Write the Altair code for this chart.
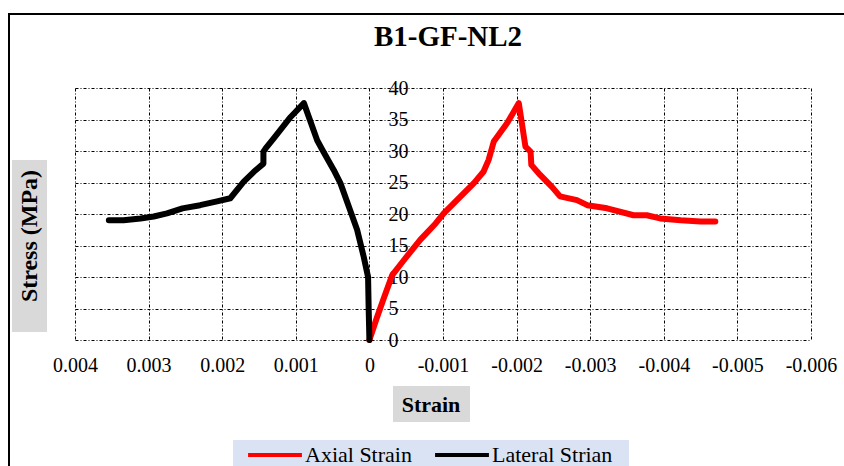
import altair as alt
import pandas as pd

# Axial strain (red) - strain negative, stress MPa
axial_strain = [0, -0.00010, -0.00020, -0.00031, -0.00047, -0.00069, -0.00090, -0.00101,
                -0.00124, -0.00142, -0.00155, -0.00162, -0.00169, -0.00187, -0.00203,
                -0.00212, -0.00219, -0.00220, -0.00232, -0.00248, -0.00259, -0.00282,
                -0.00296, -0.00323, -0.00359, -0.00377, -0.00395, -0.00423, -0.00450, -0.00470]
axial_stress = [0, 3.5, 6.8, 10.3, 12.7, 15.9, 18.5, 20.1,
                22.8, 24.9, 26.7, 28.6, 31.5, 34.4, 37.6,
                30.7, 29.9, 27.8, 26.2, 24.3, 22.8, 22.2,
                21.4, 20.9, 19.8, 19.8, 19.3, 19.0, 18.8, 18.8]

# Lateral strain (black) - strain positive
lateral_strain = [0, 0.000010, 0.000018, 0.000077, 0.000167, 0.00028, 0.000394, 0.000485,
                  0.00064, 0.00071, 0.00089, 0.00107, 0.00130, 0.00141, 0.00144, 0.00144,
                  0.00157, 0.00171, 0.00189, 0.00207, 0.00230, 0.00254, 0.00275, 0.00293,
                  0.00311, 0.00334, 0.00354]
lateral_stress = [0, 5.0, 10.0, 13.2, 17.5, 21.2, 24.9, 27.0,
                  30.2, 31.7, 37.6, 35.4, 32.0, 30.4, 29.9, 28.0,
                  26.7, 25.1, 22.5, 22.0, 21.4, 20.9, 20.1, 19.6,
                  19.3, 19.0, 19.0]

series_names = ["Axial Strain", "Lateral Strian"]
series_colors = ["#ff0000", "#000000"]
x_ticks = [0.004, 0.003, 0.002, 0.001, 0, -0.001, -0.002, -0.003, -0.004, -0.005, -0.006]
y_ticks = [0, 5, 10, 15, 20, 25, 30, 35, 40]

rows = []
for i, (s, v) in enumerate(zip(axial_strain, axial_stress)):
    rows.append({"strain": s, "stress": v, "series": series_names[0], "ord": i})
for i, (s, v) in enumerate(zip(lateral_strain, lateral_stress)):
    rows.append({"strain": s, "stress": v, "series": series_names[1], "ord": i})
df = pd.DataFrame(rows)

FONT = "Liberation Serif"
W, H = 736, 252
one = pd.DataFrame({"a": [0]})

lines = alt.Chart(df).mark_line(strokeWidth=6, strokeJoin="round", strokeCap="round").encode(
    x=alt.X("strain:Q",
            scale=alt.Scale(domain=[-0.006, 0.004], reverse=True, nice=False),
            axis=alt.Axis(values=x_ticks, labelExpr="'' + datum.value", title=None,
                          grid=True, gridColor="#000000", gridDash=[3, 2, 1, 2], gridWidth=1,
                          domain=False, ticks=False, labelFont=FONT, labelFontSize=20,
                          labelColor="#000000", labelPadding=15, labelOverlap=False,
                          labelFlush=False)),
    y=alt.Y("stress:Q",
            scale=alt.Scale(domain=[0, 40], nice=False),
            axis=alt.Axis(values=y_ticks, title=None, orient="right", offset=-442,
                          grid=True, gridColor="#000000", gridDash=[3, 2, 1, 2], gridWidth=1,
                          domain=False, ticks=False, labelFont=FONT, labelFontSize=20,
                          labelColor="#000000", labelPadding=19, labelAlign="left",
                          labelOverlap=False, labelFlush=False)),
    color=alt.Color("series:N",
                    scale=alt.Scale(domain=series_names, range=series_colors),
                    legend=alt.Legend(title=None, orient="none", legendX=171, legendY=338,
                                      direction="horizontal",
                                      padding=0, symbolType="stroke", symbolSize=2900,
                                      symbolStrokeWidth=4, labelFont=FONT, labelFontSize=22,
                                      labelColor="#000000", columnPadding=15, labelOffset=1)),
    order="ord:Q",
)

# frame
top_border = alt.Chart(one).mark_rule(color="#000000", strokeWidth=2).encode(
    x=alt.value(-67), x2=alt.value(769), y=alt.value(-74))
left_border = alt.Chart(one).mark_rule(color="#000000", strokeWidth=2).encode(
    x=alt.value(-66), y=alt.value(-74), y2=alt.value(378))

title = alt.Chart(one).mark_text(text="B1-GF-NL2", font=FONT, fontSize=29, fontWeight="bold",
                                 color="#000000", baseline="alphabetic").encode(
    x=alt.value(373), y=alt.value(-42))

xbox = alt.Chart(one).mark_rect(color="#d9d9d9").encode(
    x=alt.value(318), x2=alt.value(395), y=alt.value(298), y2=alt.value(334))
xtitle = alt.Chart(one).mark_text(text="Strain", font=FONT, fontSize=22, fontWeight="bold",
                                  color="#000000", baseline="middle").encode(
    x=alt.value(356), y=alt.value(317))

ybox = alt.Chart(one).mark_rect(color="#d9d9d9").encode(
    x=alt.value(-63), x2=alt.value(-28), y=alt.value(72), y2=alt.value(244))
ytitle = alt.Chart(one).mark_text(text="Stress (MPa)", font=FONT, fontSize=24, fontWeight="bold",
                                  color="#000000", baseline="middle", angle=270).encode(
    x=alt.value(-45), y=alt.value(148))

legbox = alt.Chart(one).mark_rect(color="#dae3f3").encode(
    x=alt.value(158), x2=alt.value(554), y=alt.value(352), y2=alt.value(380))

chart = alt.layer(xbox, ybox, legbox, lines, top_border, left_border, title, xtitle, ytitle).properties(
    width=W, height=H,
    autosize=alt.AutoSizeParams(type="none"),
    padding={"left": 75, "top": 88, "right": 33, "bottom": 126},
    background="#ffffff",
).configure_view(stroke=None)

chart.save("out.html", embed_options={"renderer": "svg", "actions": False})
